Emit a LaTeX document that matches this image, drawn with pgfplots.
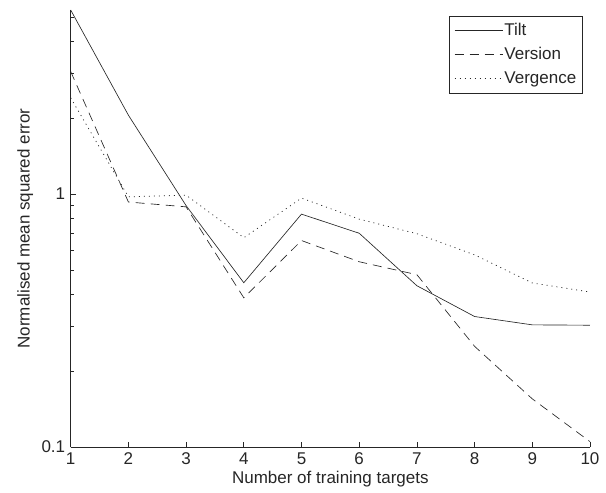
\documentclass[border=0pt]{standalone}
\usepackage{fontspec}
\setmainfont{Liberation Sans}
\usepackage{pgfplots}
\pgfplotsset{compat=1.18}

% normalised MSE per number of training targets
\pgfplotstableread{
n  tilt   version vergence
1  5.34   3.05    2.40
2  2.05   0.93    0.975
3  0.90   0.89    0.99
4  0.446  0.389   0.672
5  0.833  0.655   0.964
6  0.70   0.54    0.796
7  0.434  0.48    0.697
8  0.328  0.25    0.575
9  0.304  0.155   0.445
10 0.303  0.105   0.41
}\msedata

\newcommand\chartfont{\fontsize{17}{20}\selectfont}

\begin{document}
\begin{tikzpicture}
\useasboundingbox (-70.7pt,-46pt) rectangle (535.3pt,447pt);
\begin{axis}[
    scale only axis,
    width=519.3pt, height=437pt,
    ymode=log,
    xmin=1, xmax=10,
    ymin=0.1, ymax=5.34,
    axis x line*=bottom,
    axis y line*=left,
    axis line style={black!85, line width=0.6pt},
    tick align=inside,
    major tick length=5pt,
    minor tick length=3pt,
    every tick/.style={black!85, line width=0.6pt},
    xtick={1,2,3,4,5,6,7,8,9,10},
    ytick={0.1,1},
    yticklabels={0.1,1},
    minor ytick={0.2,0.3,0.4,0.5,0.6,0.7,0.8,0.9,2,3,4,5},
    /pgf/number format/assume math mode=true,
    tick label style={font=\chartfont, text=black!85},
    xticklabel style={yshift=-2pt},
    yticklabel style={xshift=-2pt},
    label style={font=\chartfont, text=black!85},
    xlabel={Number of training targets},
    ylabel={Normalised mean squared error},
    xlabel style={at={(axis description cs:0.5,-0.0824)}, anchor=base},
    ylabel style={at={(axis description cs:-0.079,0.5)}, anchor=base},
    clip=false,
    legend style={at={(axis description cs:0.9866,0.9863)}, anchor=north east,
        draw=black!85, line width=0.6pt, inner xsep=5pt, inner ysep=2.5pt,
        row sep=0pt, font=\chartfont, text=black!85,
        nodes={inner ysep=4.5pt, inner xsep=1.5pt, text height=12pt, text depth=3pt}},
    legend cell align=left,
    legend image code/.code={\draw[#1] (4pt,0pt) -- (52pt,0pt);},
]
\addplot[black!85, line width=0.65pt] table[x=n, y=tilt] {\msedata};
\addlegendentry{Tilt}
\addplot[black!85, line width=0.65pt, dash pattern=on 9pt off 6pt] table[x=n, y=version] {\msedata};
\addlegendentry{Version}
\addplot[black!85, line width=0.75pt, dash pattern=on 1pt off 4pt] table[x=n, y=vergence] {\msedata};
\addlegendentry{Vergence}
\end{axis}
\end{tikzpicture}
\end{document}
